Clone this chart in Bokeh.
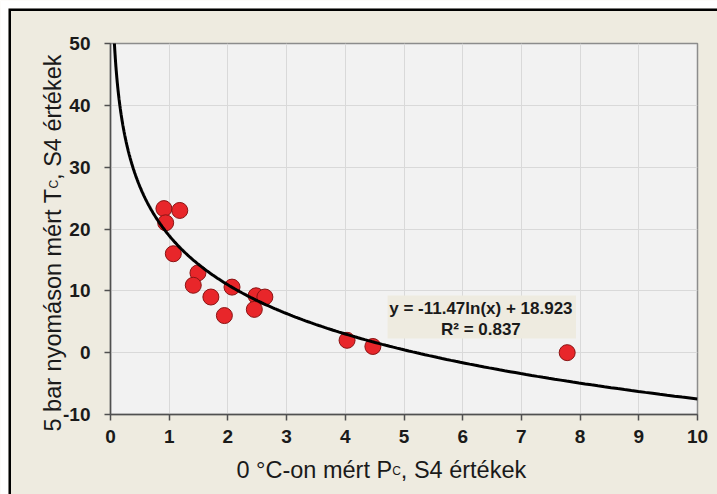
import numpy as np
from bokeh.plotting import figure
from bokeh.models import Label, BoxAnnotation, FixedTicker, PrintfTickFormatter, Range1d
from bokeh.core.properties import value
from bokeh.embed import file_html
from bokeh.resources import INLINE

# ---------------- data ----------------
pc_s4 = [0.91, 1.18, 0.94, 1.07, 1.49, 1.41, 1.71, 2.07, 1.94, 2.48, 2.63, 2.45, 4.03, 4.47, 7.78]
tc_s4 = [23.3, 23.0, 21.0, 16.0, 12.9, 10.9, 9.0, 10.6, 6.0, 9.2, 9.0, 7.0, 2.0, 1.0, 0.0]

trend_slope = -11.47
trend_intercept = 18.923
r_squared = 0.837

x_ticks = [0, 1, 2, 3, 4, 5, 6, 7, 8, 9, 10]
y_ticks = [-10, 0, 10, 20, 30, 40, 50]

x_label_parts = ["0 °C-on mért P", "C", ", S4 értékek"]
y_label_parts = ["5 bar nyomáson mért T", "C", ", S4 értékek"]

# ---------------- styling ----------------
BG = "#eeebe0"
PLOT_BG = "#f2f2f2"
GRID = "#d9d9d9"
TXT = "#1a1a1a"
FONT = "Liberation Sans"

W, H = 717, 494
p = figure(width=W, height=H, x_range=(0, 10), y_range=(-10, 50),
           output_backend="svg", toolbar_location=None,
           min_border_left=110, min_border_right=20,
           min_border_top=43, min_border_bottom=80)
p.background_fill_color = PLOT_BG
p.border_fill_color = BG
p.outline_line_color = "#8c8c8c"
p.outline_line_width = 1.5

p.xaxis.ticker = FixedTicker(ticks=x_ticks)
p.yaxis.ticker = FixedTicker(ticks=y_ticks)
for ax in (p.xaxis, p.yaxis):
    ax.formatter = PrintfTickFormatter(format="%d")
    ax.axis_line_color = "#505050"
    ax.axis_line_width = 1.5
    ax.major_tick_line_color = "#505050"
    ax.major_tick_line_width = 1.5
    ax.major_tick_in = 0
    ax.major_tick_out = 6
    ax.minor_tick_line_color = None
    ax.major_label_text_font = FONT
    ax.major_label_text_font_style = "bold"
    ax.major_label_text_font_size = "19px"
    ax.major_label_text_color = TXT
p.xaxis.major_label_standoff = 9
p.yaxis.major_label_standoff = 14

p.xgrid.ticker = FixedTicker(ticks=x_ticks)
p.ygrid.ticker = FixedTicker(ticks=y_ticks)
p.grid.grid_line_color = GRID
p.grid.grid_line_width = 1

# points
p.scatter(pc_s4, tc_s4, size=16, fill_color="#e8262a", line_color="#8a1414",
          line_width=1)

# logarithmic trend line (from the fitted coefficients)
xt = np.geomspace(0.05, 10, 400)
yt = trend_slope * np.log(xt) + trend_intercept
p.line(xt, yt, line_color="black", line_width=3)

# equation box
p.add_layout(BoxAnnotation(left=4.72, right=7.93, bottom=2.29, top=9.24,
                           fill_color=BG, fill_alpha=1, line_color=None))
p.add_layout(Label(x=6.31, y=7.14, text=f"y = {trend_slope}ln(x) + {trend_intercept}",
                   text_align="center", text_baseline="middle",
                   text_font=FONT, text_font_style="bold",
                   text_font_size="17px", text_color=TXT))
p.add_layout(Label(x=6.31, y=3.74, text=f"R² = {r_squared}",
                   text_align="center", text_baseline="middle",
                   text_font=FONT, text_font_style="bold",
                   text_font_size="17px", text_color=TXT))

# ---------------- overlay figure for axis titles and outer frame ----------------
ov = figure(width=W, height=H, x_range=Range1d(0, W), y_range=Range1d(0, H),
            output_backend="svg", toolbar_location=None,
            x_axis_type=None, y_axis_type=None,
            min_border_left=0, min_border_right=0,
            min_border_top=0, min_border_bottom=0)
ov.background_fill_alpha = 0
ov.border_fill_alpha = 0
ov.outline_line_color = None
ov.xgrid.visible = False
ov.ygrid.visible = False
ov.styles = {"position": "absolute", "left": "0px", "top": "0px"}

# white page margin and black frame edge (left and top)
ov.quad(left=[0, 0], right=[8, W], bottom=[0, H - 8], top=[H, H],
        fill_color="white", line_color=None)
ov.line([9.25, 9.25, W], [0, H - 9.25, H - 9.25], line_color="black",
        line_width=2.5, line_join="miter")

ARIAL = {'0': 556, '5': 556, '4': 556, ' ': 278, '°': 400, 'C': 722, '-': 333,
         'o': 556, 'n': 556, 'm': 833, 'é': 556, 'r': 333, 't': 278, 'P': 667,
         ',': 278, 'S': 667, 'k': 500, 'e': 556, 'b': 556, 'a': 556, 'y': 500,
         'á': 556, 's': 500, 'T': 611}


def tw(s, fs):
    return sum(ARIAL.get(c, 556) for c in s) * fs / 1000.0


FS, SFS = 23.5, 12


def add_title(parts, x0, y0, vertical):
    pos = 0.0
    for i, part in enumerate(parts):
        fs = SFS if i == 1 else FS
        drop = 1.5 if i == 1 else 0.0
        if vertical:
            x, y, ang = x0 + drop, y0 + pos, np.pi / 2
        else:
            x, y, ang = x0 + pos, y0 - drop, 0.0
        ov.text(x=[x], y=[y], text=[part], angle=ang, text_align="left",
                text_baseline="alphabetic", text_font=value(FONT),
                text_font_size=f"{fs}px", text_color=TXT)
        pos += tw(part, fs)


add_title(x_label_parts, 236, H - 469.3, vertical=False)
add_title(y_label_parts, 52, H - 431, vertical=True)

open("out.html", "w").write(file_html([p, ov], INLINE))
